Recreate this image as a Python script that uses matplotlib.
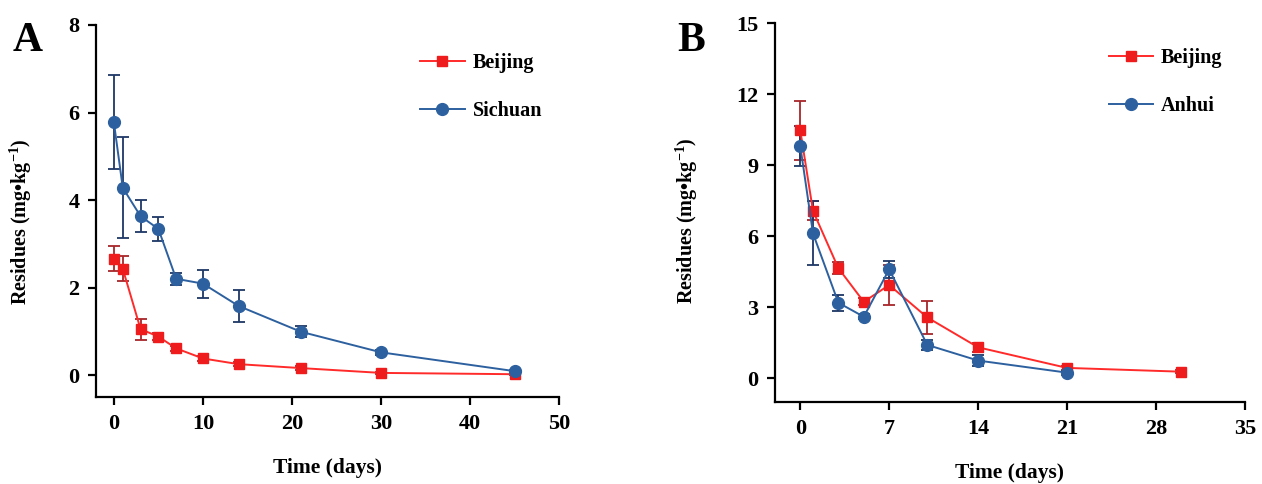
import numpy as np
import matplotlib
matplotlib.use('Agg')
import matplotlib.pyplot as plt

plt.rcParams['font.family'] = ['Liberation Serif', 'DejaVu Serif']
plt.rcParams['font.weight'] = 'bold'
plt.rcParams['mathtext.fontset'] = 'custom'
plt.rcParams['mathtext.rm'] = 'Liberation Serif:bold'
plt.rcParams['mathtext.bf'] = 'Liberation Serif:bold'
plt.rcParams['mathtext.default'] = 'bf'

# Panel A data
days_a = [0, 1, 3, 5, 7, 10, 14, 21, 30, 45]
beijing_a = [2.66, 2.43, 1.05, 0.88, 0.61, 0.38, 0.25, 0.16, 0.05, 0.02]
beijing_a_err = [0.29, 0.28, 0.24, 0.08, 0.06, 0.05, 0.05, 0.05, 0.03, 0.02]
sichuan_a = [5.78, 4.28, 3.63, 3.34, 2.20, 2.09, 1.58, 0.99, 0.52, 0.09]
sichuan_a_err = [1.07, 1.15, 0.36, 0.27, 0.13, 0.32, 0.36, 0.13, 0.06, 0.03]

# Panel B data
days_b_bj = [0, 1, 3, 5, 7, 10, 14, 21, 30]
beijing_b = [10.47, 7.07, 4.65, 3.23, 3.94, 2.57, 1.31, 0.44, 0.28]
beijing_b_err = [1.24, 0.40, 0.25, 0.15, 0.85, 0.68, 0.20, 0.10, 0.07]
days_b_ah = [0, 1, 3, 5, 7, 10, 14, 21]
anhui_b = [9.81, 6.12, 3.19, 2.60, 4.60, 1.41, 0.75, 0.24]
anhui_b_err = [0.83, 1.35, 0.34, 0.10, 0.35, 0.22, 0.25, 0.08]

red = '#ee1c1c'
red_line = '#ff2a2a'
red_err = '#a8262b'
blue = '#2d609f'
blue_err = '#1e3866'


def plot_series(ax, x, y, err, marker, ms, col, lcol, ecol, label):
    ax.errorbar(x, y, yerr=err, fmt='none', ecolor=ecol, elinewidth=1.3,
                capsize=4, capthick=1.3, zorder=2)
    ax.plot(x, y, marker=marker, ms=ms, color=lcol, lw=1.4, mfc=col,
            mec=col, label=label, zorder=3)


def style_axes(ax):
    for s in ['top', 'right']:
        ax.spines[s].set_visible(False)
    for s in ['left', 'bottom']:
        ax.spines[s].set_linewidth(1.6)
    ax.tick_params(direction='out', length=6, width=1.6, labelsize=16, pad=6)
    for lab in ax.get_xticklabels() + ax.get_yticklabels():
        lab.set_fontweight('bold')


fig = plt.figure(figsize=(12.62, 4.84), dpi=100)

# Panel A
ax1 = fig.add_axes([0.0761, 0.1798, 0.367, 0.7686])
plot_series(ax1, days_a, beijing_a, beijing_a_err, 's', 7, red, red_line, red_err, 'Beijing')
plot_series(ax1, days_a, sichuan_a, sichuan_a_err, 'o', 8.5, blue, blue, blue_err, 'Sichuan')
ax1.set_xlim(-2, 50)
ax1.set_ylim(-0.5, 8)
ax1.set_xticks([0, 10, 20, 30, 40, 50])
ax1.set_yticks([0, 2, 4, 6, 8])
style_axes(ax1)
ax1.set_xlabel('Time (days)', fontsize=15.5, fontweight='bold')
ax1.set_ylabel(r'Residues (mg•kg$^{-1}$)', fontsize=14.5, fontweight='bold')
ax1.xaxis.set_label_coords(0.5, -0.165)
ax1.yaxis.set_label_coords(-0.135, 0.47)
ax1.legend(loc='upper left', bbox_to_anchor=(0.70, 0.925), frameon=False,
           fontsize=14.5, handlelength=2.2, labelspacing=1.4, borderpad=0,
           borderaxespad=0, handletextpad=0.4)

# Panel B
ax2 = fig.add_axes([0.614, 0.1694, 0.3724, 0.783])
plot_series(ax2, days_b_bj, beijing_b, beijing_b_err, 's', 7, red, red_line, red_err, 'Beijing')
plot_series(ax2, days_b_ah, anhui_b, anhui_b_err, 'o', 8.5, blue, blue, blue_err, 'Anhui')
ax2.set_xlim(-2, 35)
ax2.set_ylim(-1, 15)
ax2.set_xticks([0, 7, 14, 21, 28, 35])
ax2.set_yticks([0, 3, 6, 9, 12, 15])
style_axes(ax2)
ax2.set_xlabel('Time (days)', fontsize=15.5, fontweight='bold')
ax2.set_ylabel(r'Residues (mg•kg$^{-1}$)', fontsize=14.5, fontweight='bold')
ax2.xaxis.set_label_coords(0.5, -0.162)
ax2.yaxis.set_label_coords(-0.16, 0.478)
ax2.legend(loc='upper left', bbox_to_anchor=(0.71, 0.935), frameon=False,
           fontsize=14.5, handlelength=2.2, labelspacing=1.4, borderpad=0,
           borderaxespad=0, handletextpad=0.4)

fig.text(0.010, 0.955, 'A', fontsize=30, fontweight='bold', va='top')
fig.text(0.537, 0.955, 'B', fontsize=30, fontweight='bold', va='top')

fig.savefig('out.png', dpi=100)
